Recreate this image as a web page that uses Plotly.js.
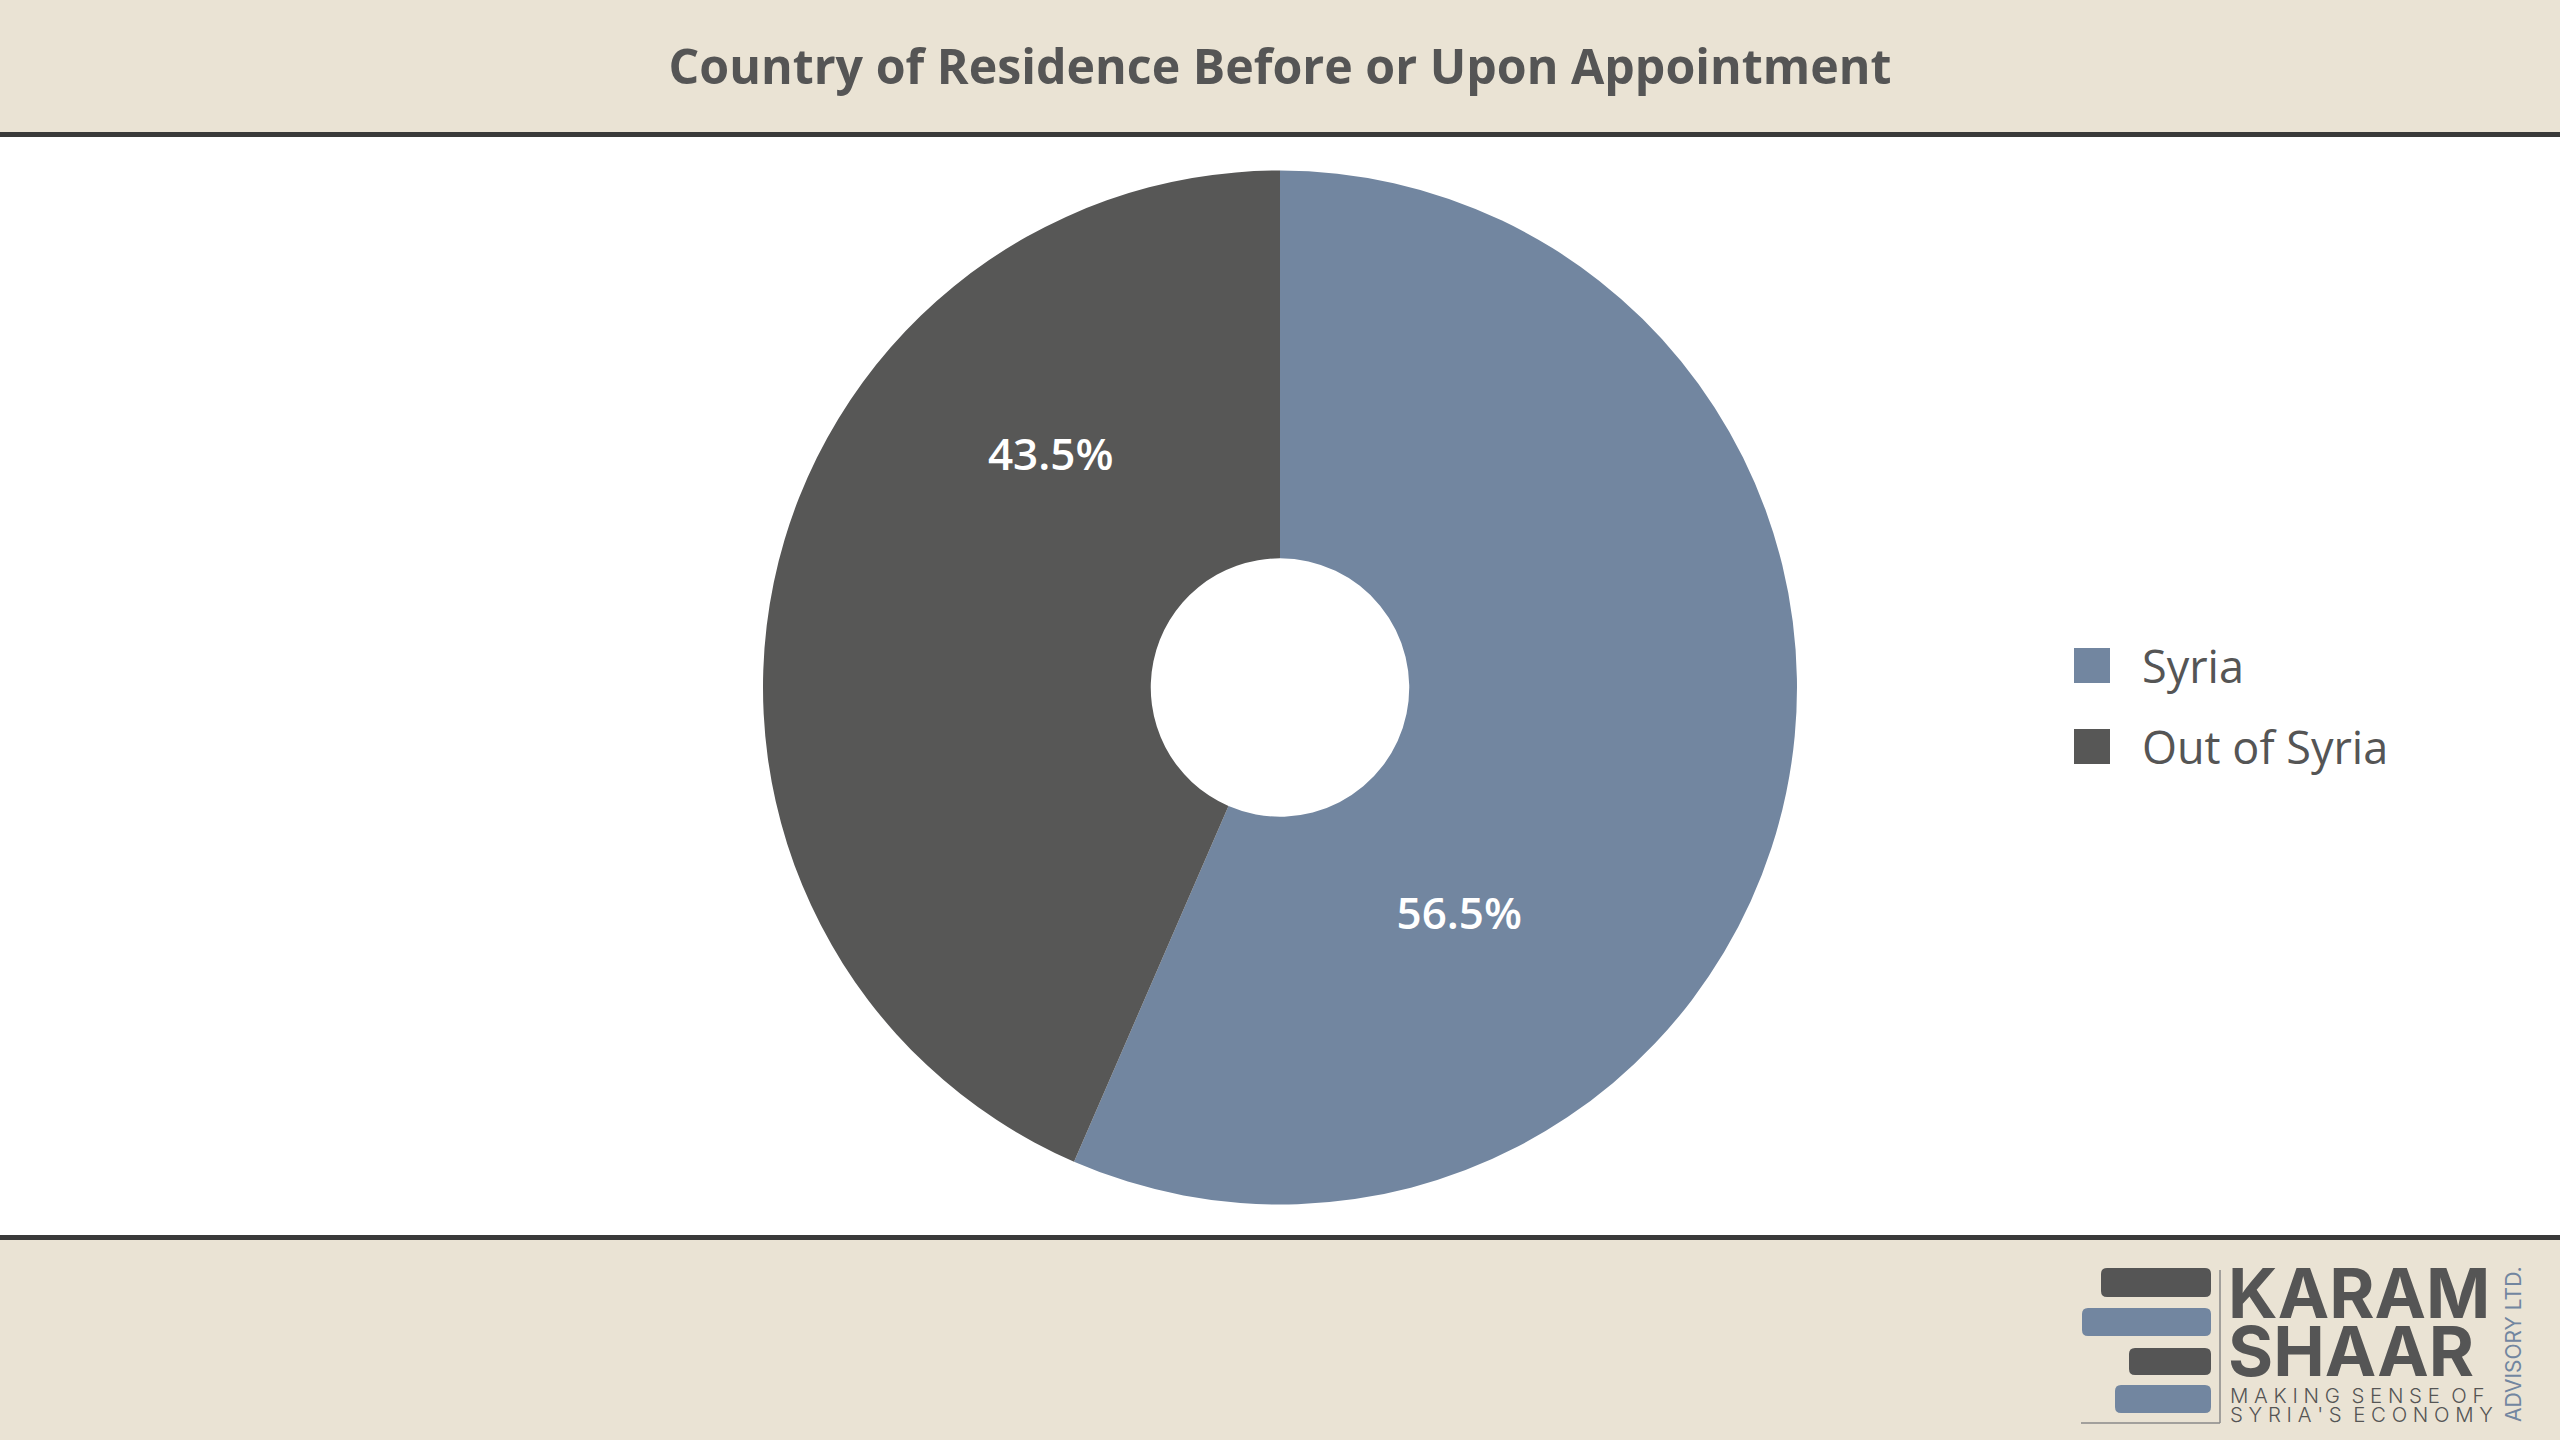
<!DOCTYPE html>
<html><head><meta charset="utf-8">
<script src="https://cdn.plot.ly/plotly-3.0.1.min.js"></script>
<style>html,body{margin:0;padding:0;background:#fff;overflow:hidden}#chart{width:2560px;height:1440px}</style>
</head><body><div id="chart"></div>
<script>
// ---- data ----
const labels = ['Syria', 'Out of Syria'];
const values = [13, 10];
const colors = ['#7286A0', '#575756'];
const chartTitle = 'Country of Residence Before or Upon Appointment';
const logoLines = ['KARAM', 'SHAAR'];
const taglineLines = ['M A K I N G  S E N S E  O F', "S Y R I A ' S  E C O N O M Y"];
const logoSide = 'ADVISORY LTD.';

// ---- layout helpers ----
const W = 2560, H = 1440;
const px = x => x / W, py = y => 1 - y / H;
const beige = '#EAE3D4', rule = '#3A3A3A', ink = '#555555';
const FONT = 'Open Sans, Noto Sans, sans-serif';

function rect(x0, y0, x1, y1, fill) {
  return {type: 'rect', xref: 'paper', yref: 'paper', x0: px(x0), x1: px(x1), y0: py(y1), y1: py(y0),
          fillcolor: fill, line: {width: 0}, layer: 'below'};
}
function rrect(x0, y0, x1, y1, r, fill) {
  const X = px, Y = py;
  const d = `M${X(x0 + r)},${Y(y0)} L${X(x1 - r)},${Y(y0)} Q${X(x1)},${Y(y0)} ${X(x1)},${Y(y0 + r)} ` +
            `L${X(x1)},${Y(y1 - r)} Q${X(x1)},${Y(y1)} ${X(x1 - r)},${Y(y1)} L${X(x0 + r)},${Y(y1)} ` +
            `Q${X(x0)},${Y(y1)} ${X(x0)},${Y(y1 - r)} L${X(x0)},${Y(y0 + r)} Q${X(x0)},${Y(y0)} ${X(x0 + r)},${Y(y0)} Z`;
  return {type: 'path', xref: 'paper', yref: 'paper', path: d, fillcolor: fill, line: {width: 0}};
}
function line(x0, y0, x1, y1, color, w) {
  return {type: 'line', xref: 'paper', yref: 'paper', x0: px(x0), x1: px(x1), y0: py(y0), y1: py(y1),
          line: {color: color, width: w}};
}

// pie geometry (pixels)
const cx = 1280, cy = 687.5, R = 517;
const domain = {x: [px(cx - R - 300), px(cx + R + 300)], y: [py(cy + R), py(cy - R)]};

const traces = [
  {
    type: 'pie', labels: labels, values: values, sort: false, direction: 'clockwise', rotation: 0,
    hole: 0.25, domain: domain,
    marker: {colors: colors, line: {width: 0}},
    textinfo: 'none', hoverinfo: 'label+percent', showlegend: false
  }
];
// percentage label layers (one per slice, transparent wedges, only the text is visible)
const labelLayout = [{rotation: 39.6, hole: 0.11}, {rotation: 33.9, hole: 0.269}];
labels.forEach((lab, i) => {
  traces.push({
    type: 'pie', labels: labels, values: values, sort: false, direction: 'clockwise',
    rotation: labelLayout[i].rotation, hole: labelLayout[i].hole, domain: domain,
    marker: {colors: labels.map(() => 'rgba(0,0,0,0)'), line: {width: 0}},
    texttemplate: labels.map((_, j) => (j === i ? '%{percent:.1%}' : '')),
    textposition: 'inside', insidetextorientation: 'horizontal',
    insidetextfont: {family: FONT, size: 44, color: '#ffffff', weight: 600},
    hoverinfo: 'skip', showlegend: false
  });
});

const shapes = [
  rect(0, 0, W, 132, beige),
  rect(0, 132, W, 137, rule),
  rect(0, 1235, W, 1240, rule),
  rect(0, 1240, W, H, beige),
  // logo bars
  rrect(2101, 1268, 2211, 1297, 6, '#555555'),
  rrect(2082, 1308, 2211, 1336, 6, '#7286A0'),
  rrect(2129, 1348, 2211, 1375, 6, '#555555'),
  rrect(2115, 1385, 2211, 1413, 6, '#7286A0'),
  line(2220, 1270, 2220, 1423, '#8a8a8a', 1.5),
  line(2081, 1423, 2220, 1423, '#8a8a8a', 1.5)
];

const annotations = [];
// custom legend built from labels/colors
labels.forEach((lab, i) => {
  const yc = 665.5 + i * 81;
  const s = rect(2074, yc - 17.5, 2110, yc + 17.5, colors[i]);
  s.layer = 'above';
  shapes.push(s);
  annotations.push({xref: 'paper', yref: 'paper', x: px(2140), y: py(yc), xanchor: 'left', yanchor: 'middle',
    text: lab, showarrow: false, font: {family: FONT, size: 45, color: ink}});
});
// logo text
logoLines.forEach((t, i) => {
  annotations.push({xref: 'paper', yref: 'paper', x: px(2226), y: py(1293 + i * 58), xanchor: 'left', yanchor: 'middle',
    text: t, showarrow: false, font: {family: 'Inter, sans-serif', size: 69, color: ink, weight: 700}});
});
taglineLines.forEach((t, i) => {
  annotations.push({xref: 'paper', yref: 'paper', x: px(2228), y: py(1395 + i * 19), xanchor: 'left', yanchor: 'middle',
    text: t, showarrow: false, font: {family: 'Inter, sans-serif', size: 20.4, color: ink, weight: 300}});
});
annotations.push({xref: 'paper', yref: 'paper', x: px(2513), y: py(1345), xanchor: 'center', yanchor: 'middle',
  text: logoSide, textangle: -90, showarrow: false, font: {family: 'Inter, sans-serif', size: 21, color: '#7286A0'}});

const layout = {
  width: W, height: H, margin: {l: 0, r: 0, t: 0, b: 0},
  paper_bgcolor: '#ffffff', plot_bgcolor: '#ffffff',
  title: {text: chartTitle, x: 0.5, xanchor: 'center', y: py(67), yanchor: 'middle', yref: 'container',
          font: {family: FONT, size: 48.3, color: ink, weight: 700}},
  showlegend: false,
  shapes: shapes, annotations: annotations
};

Plotly.newPlot('chart', traces, layout, {displayModeBar: false, staticPlot: true});
</script>
</body></html>
